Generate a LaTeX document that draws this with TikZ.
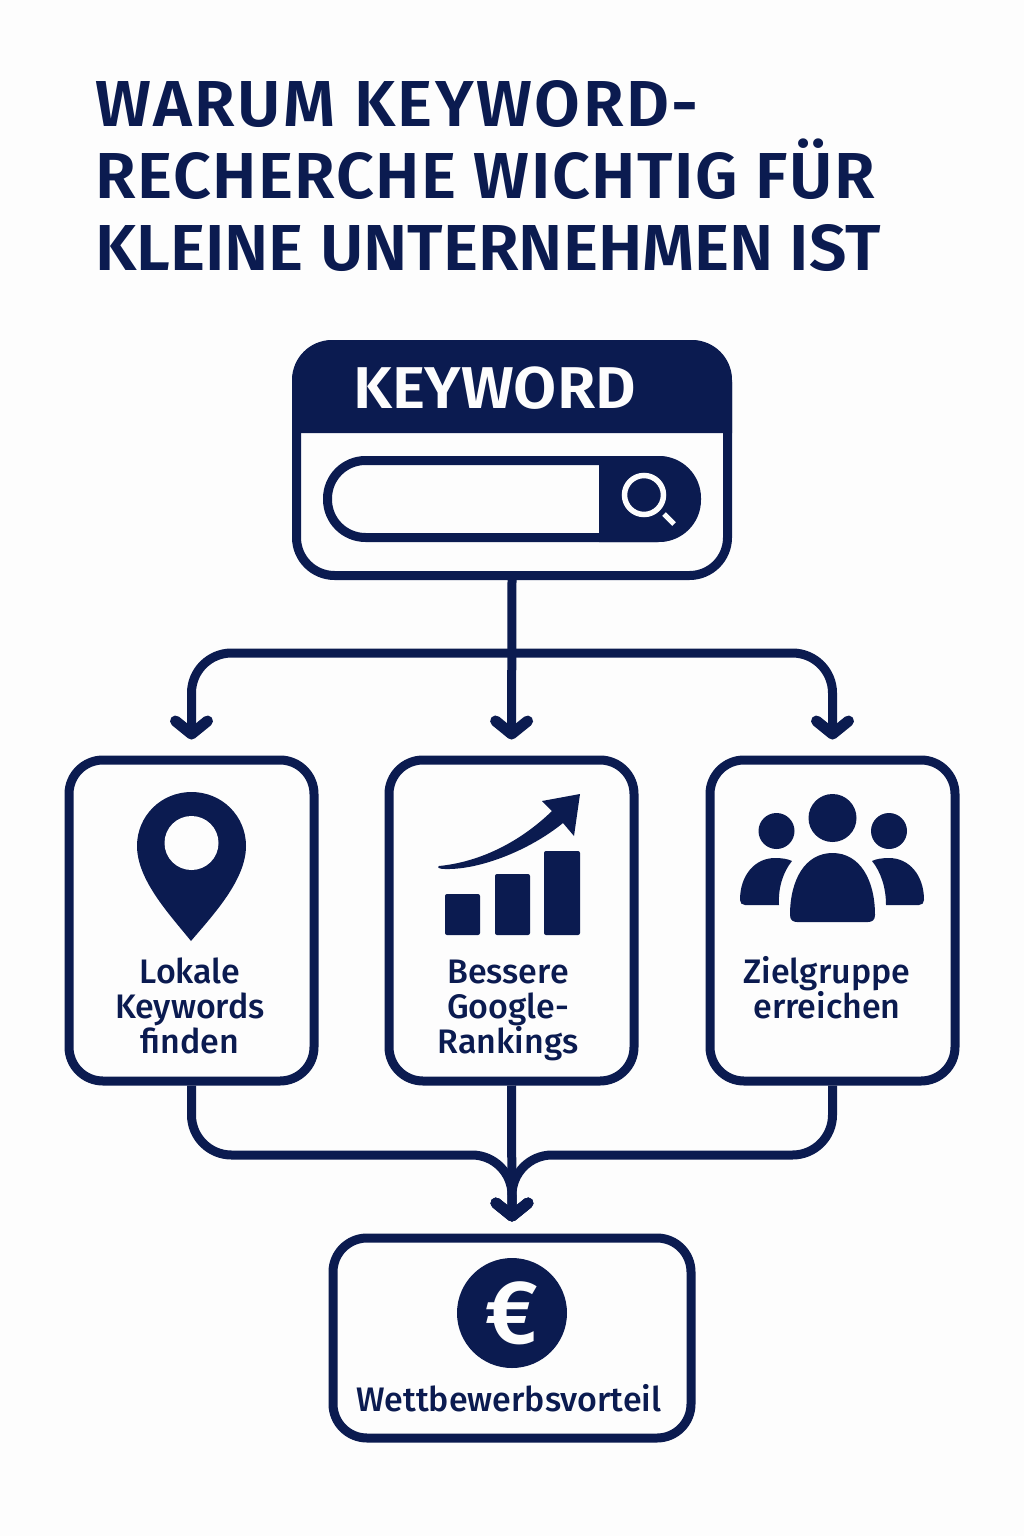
\documentclass[tikz,border=0pt]{standalone}
\usepackage{fontspec}
\setmainfont{Fira Sans Medium}[BoldFont={Fira Sans SemiBold}]
\newfontfamily\titlefont{Fira Sans SemiBold}[FakeStretch=1.02]
\newfontfamily\titlewide{Fira Sans SemiBold}[FakeStretch=1.02,LetterSpace=3.9]
\newfontfamily\titlemid{Fira Sans SemiBold}[FakeStretch=1.02,LetterSpace=2.3]
\newfontfamily\headfont{Fira Sans SemiBold}[FakeStretch=1.06]
\usetikzlibrary{positioning, arrows.meta}
\definecolor{navy}{HTML}{0B1B50}
\definecolor{paper}{HTML}{FDFDFD}
\tikzset{
	box/.style={draw=navy, line width=9pt, rounded corners=34pt, fill=paper, minimum width=245pt, minimum height=321pt},
	flow/.style={draw=navy, line width=9pt, rounded corners=40pt, -{Straight Barb[length=13pt,width=32pt,line width=11pt,round]}},
	label/.style={text=navy, align=center, inner sep=0pt, font=\fontsize{34}{35}\selectfont},
}
\begin{document}
\begin{tikzpicture}[x=1pt, y=-1pt]
	\useasboundingbox[fill=paper] (0,0) rectangle (1024,1536);
	\node[text=navy, anchor=north west, inner sep=0pt, align=left, font=\fontsize{65}{72}\titlefont] (title) at (95,80) {{\titlewide WARUM KEYWORD-}\\{\titlemid RECHERCHE WICHTIG FÜR}\\KLEINE UNTERNEHMEN IST};

	\node[box, minimum width=431pt, minimum height=231pt, rounded corners=38pt] (window) at (512,460) {};
	\fill[navy] (292,433) [rounded corners=40pt] -- (292,340) -- (732,340) [sharp corners] -- (732,433) -- cycle;
	\node[text=paper, anchor=base west, inner sep=0pt, font=\fontsize{59}{60}\headfont] (keyword) at (353,408) {KEYWORD};
	\node[box, minimum width=368pt, minimum height=77pt, rounded corners=38pt] (search) at (511.5,499) {};
	\fill[navy] (599,456) [rounded corners=42pt] -- (701,456) -- (701,542) [sharp corners] -- (599,542) -- cycle;
	\draw[paper, line width=5.5pt] (644,495) circle (19.5);
	\draw[paper, line width=5pt] (664,514) -- (674,524);

	\node[box] (lokal) at (191.5,920.5) {};
	\node[box] (rank) at (511.5,920.5) {};
	\node[box] (gruppe) at (832.5,920.5) {};
	\node[box, minimum width=358pt, minimum height=200pt] (vorteil) at (512,1338) {};

	\coordinate (split) at (512,653);
	\coordinate (merge) at (512,1155);
	\draw[flow, shorten >=16pt] (window.south) -- (rank.north);
	\draw[flow, shorten >=16pt] (split) -| (lokal.north);
	\draw[flow, shorten >=16pt] (split) -| (gruppe.north);
	\draw[flow, shorten >=12pt] (lokal.south) |- (merge) -- (vorteil.north);
	\draw[flow, shorten >=12pt] (gruppe.south) |- (merge) -- (vorteil.north);
	\draw[flow, shorten >=12pt] (rank.south) -- (vorteil.north);

	\fill[navy] (191,941) .. controls (170,915) and (137,880) .. (137,846) .. controls (137,816) and (161,792) .. (191.5,792) .. controls (222,792) and (246,816) .. (246,846) .. controls (246,880) and (213,915) .. (191,941) -- cycle;
	\fill[paper] (191.5,843) circle (27);

	\fill[navy, rounded corners=2pt] (445,894) rectangle (480,935);
	\fill[navy, rounded corners=2pt] (495,874) rectangle (530,935);
	\fill[navy, rounded corners=2pt] (544,851) rectangle (580,935);
	\fill[navy] (439,866) .. controls (480,862) and (520,842) .. (552,811) -- (542,801) -- (580,794) -- (574,836) -- (563,823) .. controls (530,850) and (480,870) .. (445,869) .. controls (438,869) and (437,867) .. (439,866) -- cycle;

	\fill[navy] (832.5,818) circle (24);
	\fill[navy] (776.5,831) circle (18);
	\fill[navy] (889,831) circle (18);
	\fill[navy] (790,915) .. controls (790,880) and (805,853) .. (832.5,853) .. controls (860,853) and (875,880) .. (875,915) .. controls (875,920) and (872,922) .. (868,922) -- (797,922) .. controls (793,922) and (790,920) .. (790,915) -- cycle;
	\fill[navy] (740,900) .. controls (740,875) and (755,858) .. (775,858) .. controls (782,858) and (788,859) .. (792,861) .. controls (783,872) and (778,888) .. (779,905) -- (745,905) .. controls (742,905) and (740,903) .. (740,900) -- cycle;
	\fill[navy] (924,900) .. controls (924,875) and (909,858) .. (889,858) .. controls (882,858) and (876,859) .. (872,861) .. controls (881,872) and (886,888) .. (886,905) -- (919,905) .. controls (922,905) and (924,903) .. (924,900) -- cycle;

	\node[label] (lokaltext) at (190,1006) {Lokale\\Keywords\\finden};
	\node[label] (ranktext) at (508,1010) {Bessere\\Google-\\Rankings};
	\node[label] (gruppetext) at (827,988) {Zielgruppe\\erreichen};

	\node[circle, fill=navy, minimum size=110pt, inner sep=0pt, text=paper, font=\fontsize{90}{90}\selectfont\bfseries] (euro) at (512,1313) {€};
	\node[label] (vorteiltext) at (509,1398) {Wettbewerbsvorteil};
\end{tikzpicture}
\end{document}
